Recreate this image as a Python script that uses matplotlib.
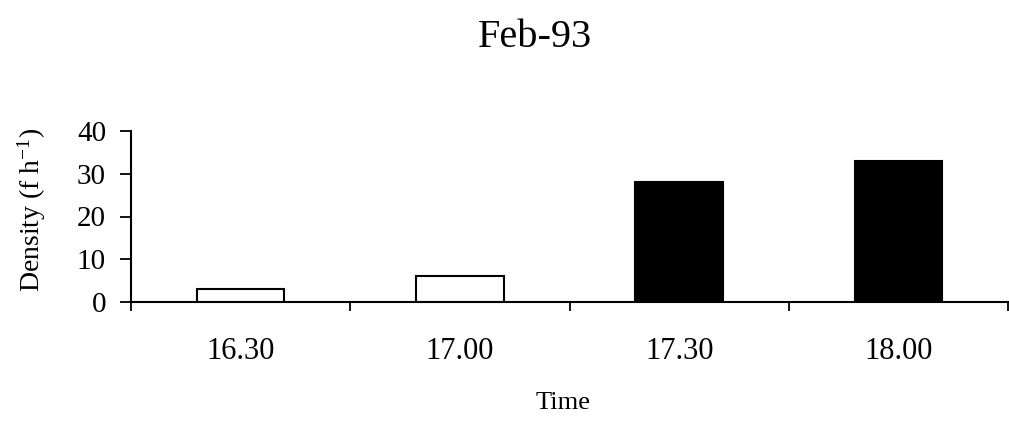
"""Bar chart of density by time of day, February 1993."""
import matplotlib.pyplot as plt
import numpy as np

plt.rcParams['font.family'] = ['Liberation Serif', 'DejaVu Serif']
plt.rcParams['mathtext.fontset'] = 'stix'

times = ["16.30", "17.00", "17.30", "18.00"]
density = [3, 6, 28, 33]
bar_colors = ["white", "white", "black", "black"]

fig = plt.figure(figsize=(10.09, 4.26), dpi=100)
ax = fig.add_axes([131 / 1009, 1 - 302 / 426, 877 / 1009, 171 / 426])

x = np.arange(len(times))
ax.bar(x, density, width=0.4, color=bar_colors, edgecolor="black", linewidth=1.5)

ax.set_xlim(-0.5, len(times) - 0.5)
ax.set_ylim(0, 40)
ax.set_yticks([0, 10, 20, 30, 40])

# tick marks sit between categories, labels sit under the bars
ax.set_xticks(np.arange(len(times) + 1) - 0.5)
ax.set_xticklabels([])
ax.set_xticks(x, minor=True)
ax.set_xticklabels(times, minor=True)
ax.tick_params(axis="x", which="major", direction="out", length=6.5, width=1.3)
ax.tick_params(axis="x", which="minor", length=0, pad=25, labelsize=22)
ax.tick_params(axis="y", direction="out", length=8, width=1.3, pad=10, labelsize=21)

for side in ("top", "right"):
    ax.spines[side].set_visible(False)
for side in ("left", "bottom"):
    ax.spines[side].set_linewidth(1.5)

ax.set_ylabel(r"Density (f h$^{\mathregular{-1}}$)", fontsize=20)
ax.yaxis.set_label_coords(-0.095, 0.54)

fig.text(563 / 1009, 1 - 409 / 426, "Time", ha="center", va="baseline", fontsize=19)
fig.text(535 / 1009, 1 - 47 / 426, "Feb-93", ha="center", va="baseline", fontsize=29)

fig.savefig("out.png", dpi=100)
